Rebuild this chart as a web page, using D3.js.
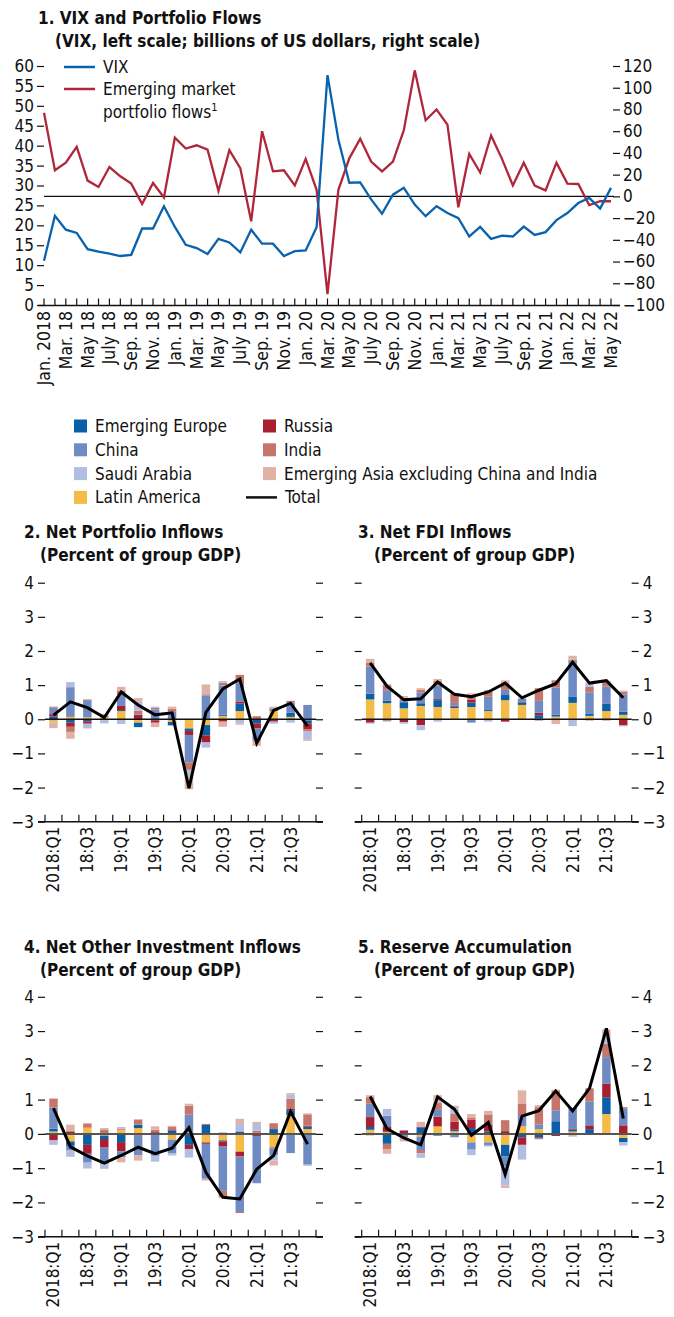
<!DOCTYPE html>
<html>
  <head>
    <meta charset="utf-8">
    <title></title>
  </head>
  <style>
    body {
      margin: 0;
      background: #fff;
    }
    svg text {
      font-family: "Liberation Sans Narrow", "DejaVu Sans Condensed", "Arial Narrow", sans-serif;
      fill: #111;
    }
    .title {
      font-weight: bold;
      font-size: 17px;
    }
    .tick text {
      font-size: 17px;
    }
    .axis path {
      display: none
    }
    .axis .tick line {
      stroke: #111;
      stroke-width: 1.2
    }
  </style>
  <script src="https://d3js.org/d3.v7.min.js"></script>
  <body>
    <script>
    // ---- panel 1 data (monthly, Jan 2018 - May 2022) ----
    const months = [
      "Jan. 2018","Feb. 18","Mar. 18","Apr. 18","May 18","June 18","July 18","Aug. 18","Sep. 18","Oct. 18","Nov. 18","Dec. 18",
      "Jan. 19","Feb. 19","Mar. 19","Apr. 19","May 19","June 19","July 19","Aug. 19","Sep. 19","Oct. 19","Nov. 19","Dec. 19",
      "Jan. 20","Feb. 20","Mar. 20","Apr. 20","May 20","June 20","July 20","Aug. 20","Sep. 20","Oct. 20","Nov. 20","Dec. 20",
      "Jan. 21","Feb. 21","Mar. 21","Apr. 21","May 21","June 21","July 21","Aug. 21","Sep. 21","Oct. 21","Nov. 21","Dec. 21",
      "Jan. 22","Feb. 22","Mar. 22","Apr. 22","May 22"]
    const vix = [
      11.1, 22.4, 18.9, 18.1, 14.0, 13.4, 12.9, 12.3, 12.6, 19.2, 19.2, 24.8,
      19.6, 15.1, 14.3, 12.8, 16.6, 15.7, 13.2, 18.9, 15.4, 15.4, 12.3, 13.5,
      13.7, 19.5, 57.7, 41.5, 30.7, 30.8, 26.5, 22.9, 27.7, 29.4, 25.2, 22.3,
      24.8, 23.1, 21.8, 17.2, 19.6, 16.6, 17.4, 17.2, 19.7, 17.6, 18.3, 21.3,
      23.1, 25.6, 26.9, 24.2, 29.4]
    const emFlows = [
      77, 24, 31, 45.5, 14.5, 8.6, 27, 18.5, 11.7, -7, 12.3, -1,
      54, 44, 47, 43, 5, 42.5, 26, -23, 60, 23, 24, 10,
      34.5, 6, -90, 6, 35, 53, 32, 23, 32, 61, 116, 70,
      80, 66, -10, 39, 22, 56, 34.5, 10, 31, 10, 5.5, 31,
      11.7, 11.4, -8, -4.5, -4.5]
    const vixTicks = [0, 5, 10, 15, 20, 25, 30, 35, 40, 45, 50, 55, 60]
    const flowTicks = [-100, -80, -60, -40, -20, 0, 20, 40, 60, 80, 100, 120]

    // ---- panels 2-5 (quarterly, percent of group GDP) ----
    const quarters = ["2018:Q1","18:Q2","18:Q3","18:Q4","19:Q1","19:Q2","19:Q3","19:Q4",
                      "20:Q1","20:Q2","20:Q3","20:Q4","21:Q1","21:Q2","21:Q3","21:Q4"]
    const pctTicks = [-3, -2, -1, 0, 1, 2, 3, 4]

    // 2. net portfolio inflows
    const pfLatAm    = [-0.10, 0.07, 0.06, 0.06, 0.24, -0.10, 0.00, -0.08, -0.27, -0.17, 0.10, 0.24, 0.00, 0.25, 0.07, -0.03]
    const pfEurope   = [0.08, -0.10, -0.06, 0.00, 0.03, -0.13, -0.03, -0.10, -0.07, -0.30, 0.03, 0.22, -0.12, 0.03, 0.12, -0.09]
    const pfRussia   = [0.07, -0.12, -0.07, -0.02, 0.12, 0.13, -0.07, 0.00, -0.12, -0.21, -0.07, 0.05, -0.15, -0.07, 0.00, -0.17]
    const pfChina    = [0.19, 0.87, 0.50, 0.00, 0.32, 0.02, 0.29, 0.22, -0.80, 0.70, 0.86, 0.55, -0.36, 0.04, 0.31, 0.42]
    const pfIndia    = [0.03, -0.15, 0.02, 0.04, 0.12, 0.10, 0.05, 0.09, -0.22, 0.03, 0.08, 0.24, 0.09, 0.02, 0.04, -0.07]
    const pfSaudi    = [-0.04, 0.15, -0.13, -0.10, -0.14, 0.26, 0.03, -0.02, -0.15, -0.15, 0.05, -0.12, 0.00, -0.06, -0.10, -0.22]
    const pfAsia     = [-0.12, -0.20, -0.01, 0.06, 0.12, 0.11, -0.13, 0.06, -0.42, 0.29, -0.15, -0.04, -0.15, 0.03, 0.00, -0.05]
    const pfTotal    = [0.12, 0.51, 0.34, 0.05, 0.80, 0.42, 0.13, 0.19, -2.02, 0.20, 0.89, 1.18, -0.70, 0.26, 0.47, -0.20]

    // 3. net FDI inflows
    const fdiLatAm   = [0.58, 0.47, 0.32, 0.39, 0.36, 0.33, 0.36, 0.24, 0.56, 0.42, 0.02, 0.08, 0.48, 0.10, 0.24, 0.13]
    const fdiEurope  = [0.17, 0.07, 0.18, 0.08, 0.20, 0.04, 0.13, 0.03, 0.15, 0.07, 0.10, 0.05, 0.19, 0.07, 0.21, 0.09]
    const fdiRussia  = [-0.10, -0.04, -0.08, -0.17, 0.03, 0.03, 0.09, 0.00, -0.07, 0.02, 0.07, -0.02, -0.03, -0.03, -0.03, -0.18]
    const fdiChina   = [0.79, 0.31, 0.03, 0.31, 0.40, 0.08, -0.10, 0.39, 0.15, 0.10, 0.35, 0.80, 1.04, 0.62, 0.51, 0.51]
    const fdiIndia   = [0.11, 0.15, 0.10, 0.08, 0.14, 0.26, 0.14, 0.15, 0.19, 0.00, 0.37, 0.21, 0.04, 0.16, 0.12, 0.08]
    const fdiSaudi   = [-0.03, -0.03, -0.05, -0.15, -0.07, 0.00, 0.00, -0.07, 0.00, 0.02, 0.00, 0.00, -0.17, 0.10, 0.00, -0.03]
    const fdiAsia    = [0.12, 0.03, 0.05, 0.05, 0.05, 0.03, 0.04, 0.05, 0.09, -0.02, -0.05, -0.12, 0.11, 0.03, 0.05, 0.03]
    const fdiTotal   = [1.65, 0.97, 0.57, 0.60, 1.09, 0.73, 0.66, 0.80, 1.06, 0.63, 0.85, 1.04, 1.67, 1.06, 1.13, 0.63]

    // 4. net other investment inflows
    const oiLatAm    = [0.07, -0.22, 0.18, -0.05, 0.12, 0.17, 0.02, -0.17, 0.04, -0.25, -0.19, -0.52, 0.03, -0.40, 0.55, 0.14]
    const oiEurope   = [0.08, -0.13, -0.32, -0.10, -0.24, 0.10, -0.05, 0.10, -0.32, 0.26, -0.03, 0.07, 0.00, 0.14, 0.14, 0.07]
    const oiRussia   = [-0.19, 0.07, -0.26, -0.25, -0.27, -0.05, 0.03, 0.03, -0.12, -0.04, -0.15, -0.14, -0.06, -0.02, 0.04, 0.03]
    const oiChina    = [0.62, -0.12, -0.26, -0.49, -0.17, -0.58, -0.59, -0.39, 0.52, -1.02, -1.29, -1.62, -1.38, -0.21, -0.56, -0.90]
    const oiIndia    = [0.25, 0.03, 0.11, 0.13, 0.03, 0.15, 0.07, 0.08, 0.26, 0.03, -0.19, -0.03, 0.06, 0.17, 0.29, 0.33]
    const oiSaudi    = [-0.13, -0.20, -0.17, -0.13, 0.05, 0.00, -0.17, -0.07, -0.25, 0.00, 0.05, 0.22, 0.20, -0.15, 0.12, -0.03]
    const oiAsia     = [0.02, 0.17, 0.03, 0.04, -0.15, -0.15, 0.10, 0.03, 0.06, -0.05, -0.02, 0.15, 0.06, -0.14, 0.05, 0.03]
    const oiTotal    = [0.75, -0.38, -0.64, -0.85, -0.63, -0.39, -0.58, -0.42, 0.18, -1.12, -1.85, -1.90, -1.03, -0.63, 0.65, -0.30]

    // 5. reserve accumulation
    const resLatAm   = [0.12, 0.06, 0.00, -0.08, 0.22, 0.08, -0.25, -0.25, -0.32, 0.23, 0.14, -0.02, 0.07, -0.03, 0.58, -0.12]
    const resEurope  = [0.08, -0.29, -0.05, 0.19, -0.05, 0.04, 0.17, 0.07, -0.33, -0.10, -0.10, 0.37, 0.06, 0.14, 0.49, -0.12]
    const resRussia  = [0.29, 0.14, 0.10, 0.02, 0.28, 0.24, 0.24, 0.19, 0.08, -0.22, -0.04, -0.04, 0.03, 0.11, 0.39, 0.25]
    const resChina   = [0.39, 0.33, -0.05, -0.39, 0.20, -0.10, -0.21, -0.09, -0.30, 0.32, 0.14, 0.32, 0.60, 0.69, 0.78, 0.50]
    const resIndia   = [0.19, -0.15, 0.00, -0.10, 0.20, 0.22, 0.07, 0.31, 0.32, 0.34, 0.50, 0.56, 0.00, 0.39, 0.39, 0.03]
    const resSaudi   = [-0.05, 0.20, 0.00, -0.13, 0.03, 0.17, -0.16, -0.03, -0.55, -0.43, -0.02, 0.00, 0.00, 0.00, 0.23, -0.10]
    const resAsia    = [0.06, -0.14, -0.12, 0.14, 0.20, 0.07, 0.10, 0.10, -0.08, 0.38, 0.06, 0.04, -0.08, 0.00, 0.19, 0.00]
    const resTotal   = [1.09, 0.15, -0.12, -0.32, 1.08, 0.72, -0.04, 0.33, -1.18, 0.52, 0.68, 1.25, 0.67, 1.33, 3.08, 0.45]

    // stacking order (bottom up) and colours
    const regionKeys = ["latam", "europe", "russia", "china", "india", "saudi", "asia"]
    const regionNames = {
      europe: "Emerging Europe", russia: "Russia", china: "China", india: "India",
      saudi: "Saudi Arabia", asia: "Emerging Asia excluding China and India", latam: "Latin America"
    }
    const colors = {
      europe: "#0a5fa9", russia: "#a81f31", china: "#6f8bc3", india: "#c6756a",
      saudi: "#b2bee1", asia: "#e0b1a5", latam: "#f3bb47"
    }
    const vixColor = "#0a62ad"
    const flowColor = "#b0263b"

    var svg = d3.select("body")
                .append("svg")
                .attr("width", 674)
                .attr("height", 1317)

    // ================= panel 1 =================
    svg.append("text").attr("class", "title").attr("x", 38).attr("y", 24)
       .text("1. VIX and Portfolio Flows")
    svg.append("text").attr("class", "title").attr("x", 55).attr("y", 47)
       .text("(VIX, left scale; billions of US dollars, right scale)")

    let x1 = d3.scaleLinear().domain([0, months.length - 1]).range([44, 611])
    let yL = d3.scaleLinear().domain([0, 60]).range([305, 66])
    let yR = d3.scaleLinear().domain([-100, 120]).range([305, 66])

    svg.append("g")
       .attr("class", "axis")
       .attr("transform", "translate(44,0)")
       .call(d3.axisLeft(yL).tickValues(vixTicks).tickSize(7).tickPadding(3))

    svg.append("g")
       .attr("class", "axis")
       .attr("transform", "translate(613,0)")
       .call(d3.axisRight(yR).tickValues(flowTicks).tickSize(7).tickPadding(3))

    // zero line of right scale
    svg.append("line")
       .attr("x1", 44).attr("x2", 614)
       .attr("y1", yR(0)).attr("y2", yR(0))
       .attr("stroke", "#111").attr("stroke-width", 1.1)

    // x axis, monthly ticks pointing up
    let xAxis1 = svg.append("g")
    xAxis1.append("line")
       .attr("x1", 38).attr("x2", 620)
       .attr("y1", 305.5).attr("y2", 305.5)
       .attr("stroke", "#111").attr("stroke-width", 1.3)
    xAxis1.selectAll("line.tk")
       .data(months)
       .enter()
       .append("line")
       .attr("class", "tk")
       .attr("x1", (d, i) => x1(i)).attr("x2", (d, i) => x1(i))
       .attr("y1", 305.5).attr("y2", 298.5)
       .attr("stroke", "#111").attr("stroke-width", 1.2)
    xAxis1.selectAll("text")
       .data(months.filter((d, i) => i % 2 == 0))
       .enter()
       .append("text")
       .attr("transform", (d, i) => `translate(${x1(i * 2) + 6},311) rotate(-90)`)
       .attr("text-anchor", "end")
       .attr("font-size", "17.5px")
       .text(d => d)

    let line1 = d3.line()
                  .x((d, i) => x1(i))
    svg.append("path")
       .attr("d", line1.y(d => yR(d))(emFlows))
       .attr("fill", "none")
       .attr("stroke", flowColor)
       .attr("stroke-width", 2.3)
    svg.append("path")
       .attr("d", line1.y(d => yL(d))(vix))
       .attr("fill", "none")
       .attr("stroke", vixColor)
       .attr("stroke-width", 2.3)

    // legend panel 1
    let leg1 = svg.append("g")
    leg1.append("line").attr("x1", 64).attr("x2", 95).attr("y1", 67).attr("y2", 67)
        .attr("stroke", vixColor).attr("stroke-width", 2.5)
    leg1.append("text").attr("x", 103).attr("y", 73).attr("font-size", "17px").text("VIX")
    leg1.append("line").attr("x1", 64).attr("x2", 95).attr("y1", 89).attr("y2", 89)
        .attr("stroke", flowColor).attr("stroke-width", 2.5)
    leg1.append("text").attr("x", 103).attr("y", 95).attr("font-size", "17px").text("Emerging market")
    let lt = leg1.append("text").attr("x", 103).attr("y", 118).attr("font-size", "17px")
    lt.append("tspan").text("portfolio flows")
    lt.append("tspan").attr("font-size", "11px").attr("dy", -7).text("1")

    // ================= shared legend =================
    let legendRows = [
      ["europe", "russia"],
      ["china", "india"],
      ["saudi", "asia"],
      ["latam", "total"]
    ]
    let leg = svg.append("g")
    legendRows.forEach(function(row, r) {
      row.forEach(function(key, c) {
        let y = 426 + r * 23.8
        let sx = c == 0 ? 74 : 263
        if (key == "total") {
          leg.append("line").attr("x1", 246).attr("x2", 277).attr("y1", y).attr("y2", y)
             .attr("stroke", "#111").attr("stroke-width", 2.5)
          leg.append("text").attr("x", 285).attr("y", y + 6).attr("font-size", "17px").text("Total")
        } else {
          leg.append("rect").attr("x", sx).attr("y", y - 6.5).attr("width", 13).attr("height", 13)
             .attr("fill", colors[key])
          leg.append("text").attr("x", sx + 21).attr("y", y + 6).attr("font-size", "17px").text(regionNames[key])
        }
      })
    })

    // ================= panels 2-5 =================
    function drawPanel(cfg) {
      let g = svg.append("g")
      g.append("text").attr("class", "title").attr("x", cfg.tx).attr("y", cfg.ty).text(cfg.title)
      g.append("text").attr("class", "title").attr("x", cfg.tx + 16).attr("y", cfg.ty + 23)
       .text("(Percent of group GDP)")

      let x = d3.scaleBand().domain(quarters).range([cfg.left, cfg.right])
                .paddingInner(0.5).paddingOuter(0.25)
      let y = d3.scaleLinear().domain([-3, 4]).range([cfg.bottom, cfg.top])

      let rows = quarters.map(function(q, i) {
        let row = { q: q }
        regionKeys.forEach(k => row[k] = cfg.series[k][i])
        return row
      })
      let stacked = d3.stack().keys(regionKeys).offset(d3.stackOffsetDiverging)(rows)

      g.append("g")
       .attr("class", "axis")
       .attr("transform", `translate(${cfg.left},0)`)
       .call(d3.axisLeft(y).tickValues(pctTicks).tickSize(7).tickPadding(4)
              .tickFormat(cfg.leftLabels ? d3.format("d") : ""))
      g.append("g")
       .attr("class", "axis")
       .attr("transform", `translate(${cfg.right},0)`)
       .call(d3.axisRight(y).tickValues(pctTicks).tickSize(7).tickPadding(4)
              .tickFormat(cfg.leftLabels ? "" : d3.format("d")))

      g.append("g").selectAll("g")
       .data(stacked)
       .enter()
       .append("g")
       .attr("fill", d => colors[d.key])
       .selectAll("rect")
       .data(d => d)
       .enter()
       .append("rect")
       .attr("x", d => x(d.data.q))
       .attr("width", x.bandwidth())
       .attr("y", d => y(d[1]))
       .attr("height", d => Math.max(0, y(d[0]) - y(d[1])))

      g.append("line")
       .attr("x1", cfg.left).attr("x2", cfg.right)
       .attr("y1", y(0)).attr("y2", y(0))
       .attr("stroke", cfg.zeroColor).attr("stroke-width", cfg.zeroWidth)

      // bottom axis: boundary ticks pointing up, labels every second quarter
      let step = x.step()
      g.append("line")
       .attr("x1", cfg.left - 7).attr("x2", cfg.right + 7)
       .attr("y1", y(-3)).attr("y2", y(-3))
       .attr("stroke", "#111").attr("stroke-width", 1.4)
      g.selectAll("line.tk")
       .data(d3.range(quarters.length + 1))
       .enter()
       .append("line")
       .attr("class", "tk")
       .attr("x1", i => cfg.left + i * step).attr("x2", i => cfg.left + i * step)
       .attr("y1", y(-3)).attr("y2", y(-3) - 7)
       .attr("stroke", "#111").attr("stroke-width", 1.2)
      g.selectAll("text.xl")
       .data(quarters.filter((d, i) => i % 2 == 0))
       .enter()
       .append("text")
       .attr("class", "xl")
       .attr("transform", d => `translate(${x(d) + x.bandwidth() / 2 + 6},${y(-3) + 5}) rotate(-90)`)
       .attr("text-anchor", "end")
       .attr("font-size", "17px")
       .text(d => d)

      g.append("path")
       .attr("d", d3.line().x((d, i) => x(quarters[i]) + x.bandwidth() / 2).y(d => y(d))(cfg.total))
       .attr("fill", "none")
       .attr("stroke", "#000")
       .attr("stroke-width", 3)
    }

    drawPanel({
      title: "2. Net Portfolio Inflows", tx: 24, ty: 538,
      left: 45, right: 316, top: 582.7, bottom: 821.7, leftLabels: true,
      zeroColor: "#111", zeroWidth: 1.5,
      series: { latam: pfLatAm, europe: pfEurope, russia: pfRussia, china: pfChina,
                india: pfIndia, saudi: pfSaudi, asia: pfAsia },
      total: pfTotal
    })
    drawPanel({
      title: "3. Net FDI Inflows", tx: 358, ty: 538,
      left: 361.7, right: 631.7, top: 582.7, bottom: 821.7, leftLabels: false,
      zeroColor: "#111", zeroWidth: 1.5,
      series: { latam: fdiLatAm, europe: fdiEurope, russia: fdiRussia, china: fdiChina,
                india: fdiIndia, saudi: fdiSaudi, asia: fdiAsia },
      total: fdiTotal
    })
    drawPanel({
      title: "4. Net Other Investment Inflows", tx: 24, ty: 953,
      left: 45, right: 316, top: 996.8, bottom: 1236.7, leftLabels: true,
      zeroColor: "#555", zeroWidth: 2,
      series: { latam: oiLatAm, europe: oiEurope, russia: oiRussia, china: oiChina,
                india: oiIndia, saudi: oiSaudi, asia: oiAsia },
      total: oiTotal
    })
    drawPanel({
      title: "5. Reserve Accumulation", tx: 358, ty: 953,
      left: 361.7, right: 631.7, top: 996.8, bottom: 1236.7, leftLabels: false,
      zeroColor: "#555", zeroWidth: 2,
      series: { latam: resLatAm, europe: resEurope, russia: resRussia, china: resChina,
                india: resIndia, saudi: resSaudi, asia: resAsia },
      total: resTotal
    })
    </script>
  </body>
</html>
